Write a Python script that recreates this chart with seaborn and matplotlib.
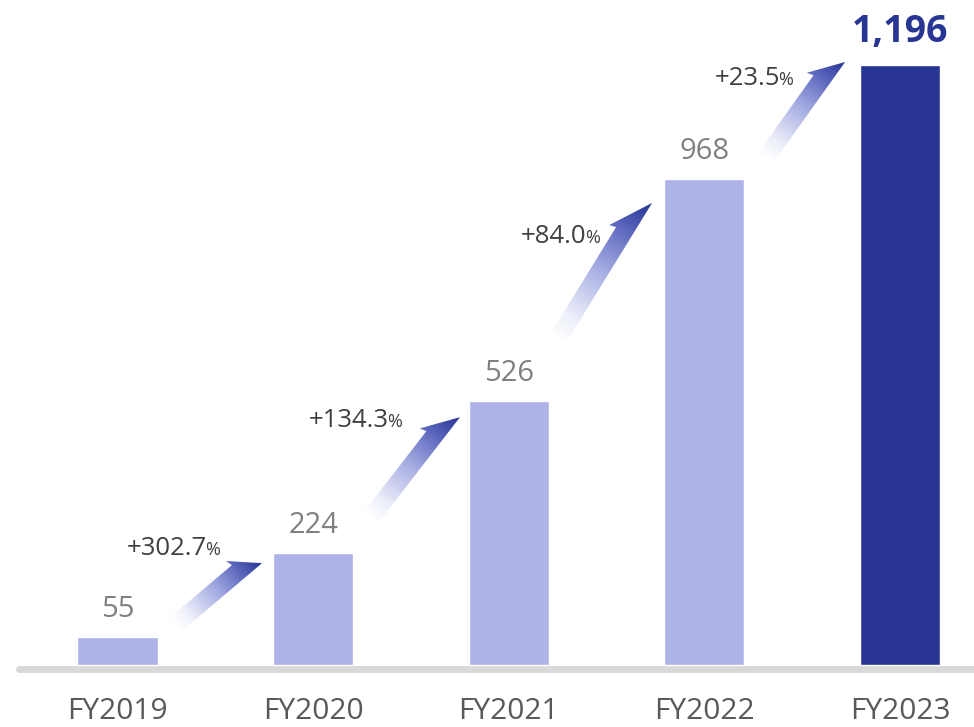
import numpy as np
import pandas as pd
import matplotlib
matplotlib.use("Agg")
import matplotlib.pyplot as plt
import seaborn as sns
from matplotlib import font_manager
from matplotlib.colors import LinearSegmentedColormap
from matplotlib.patches import Polygon

# ---------------- data ----------------
categories = ["FY2019", "FY2020", "FY2021", "FY2022", "FY2023"]
values = [55, 224, 526, 968, 1196]
growth_labels = ["+302.7", "+134.3", "+84.0", "+23.5"]

# ---------------- style ----------------
LIGHT = "#aeb4e8"
DARK = "#283593"
bar_colors = [LIGHT, LIGHT, LIGHT, LIGHT, DARK]

sns.set_theme(style="white")
names = {f.name for f in font_manager.fontManager.ttflist}
MAIN_FONT = ["Open Sans", "DejaVu Sans"]
if "Liberation Sans Narrow" in names:
    TICK_FONT, TICK_SIZE = ["Liberation Sans Narrow"], 24
else:
    TICK_FONT, TICK_SIZE = ["Open Sans"], 21.5
plt.rcParams["font.family"] = MAIN_FONT

W, H = 974, 727
fig = plt.figure(figsize=(W / 100, H / 100), dpi=100)
ax = fig.add_axes([0, 47 / H, 1, 680 / H])

df = pd.DataFrame({"cat": categories, "val": values})
sns.barplot(data=df, x="cat", y="val", hue="cat", palette=bar_colors,
            order=categories, hue_order=categories, width=0.41,
            saturation=1, legend=False, ax=ax, zorder=3)

# pixel scale: 1196 -> 600 px
ppu = 600 / 1196.0
xspan = 195.6
ax.set_xlim(-117.5 / xspan, (W - 117.5) / xspan)
ax.set_ylim(-15 / ppu, 665 / ppu)
ax.set_xlabel("")
ax.set_ylabel("")
ax.set_yticks([])
for s in ax.spines.values():
    s.set_visible(False)
ax.tick_params(axis="x", length=0, pad=12)
for lab in ax.get_xticklabels():
    lab.set_fontfamily(TICK_FONT)
    lab.set_fontsize(TICK_SIZE)
    lab.set_color("#595959")

# baseline
ax.axhline(-3.5 / ppu, xmin=19 / W, xmax=1, color="#d9d9d9", lw=7 * 0.72, zorder=2)

# value labels
for i, v in enumerate(values):
    if i == len(values) - 1:
        ax.text(i, v + 23 / ppu, f"{v:,}", ha="center", va="baseline",
                fontsize=27, fontweight="bold", color=DARK, zorder=5)
    else:
        ax.text(i, v + 20 / ppu, f"{v:,}", ha="center", va="baseline",
                fontsize=21, color="#808080", zorder=5)

# ---------------- gradient arrows ----------------
# arrow layout (x in category units, y in value units): tail / tip of right edge
arrow_tail = [(0.33, 68), (1.33, 282), (2.29, 640), (3.35, 1000)]
arrow_tip = [(0.739, 203), (1.751, 494), (2.733, 921), (3.72, 1202)]
label_offset_px = [(-42, 8), (-58, -10), (-52, -40), (-52, -23)]

cmap = LinearSegmentedColormap.from_list(
    "arr", [(0.0, "#ffffff"), (0.15, "#eef0fa"), (0.5, "#a5ace2"),
            (0.8, "#5864bb"), (1.0, DARK)])

to_px = ax.transData.transform
to_data = ax.transData.inverted().transform
renderer = fig.canvas.get_renderer()

for k in range(len(arrow_tail)):
    T = to_px(arrow_tail[k])
    P = to_px(arrow_tip[k])
    d = P - T
    L = np.hypot(*d)
    u = d / L
    n = np.array([-u[1], u[0]])
    w = 18.0
    hl = 0.25 * L
    ww = 25.0
    local = [(0, 0), (L, 0), (L - hl, ww), (L - hl + 2, w), (0, w)]
    pts = np.array([T + s * u + t * n for s, t in local])
    data_pts = to_data(pts)
    clip = Polygon(data_pts, closed=True, facecolor="none", edgecolor="none",
                   transform=ax.transData)
    ax.add_patch(clip)
    x0, y0 = pts.min(axis=0) - 2
    x1, y1 = pts.max(axis=0) + 2
    nx, ny = int(x1 - x0) + 1, int(y1 - y0) + 1
    gx, gy = np.meshgrid(np.linspace(x0, x1, nx), np.linspace(y0, y1, ny))
    sval = np.clip(((gx - T[0]) * u[0] + (gy - T[1]) * u[1]) / L, 0, 1)
    (dx0, dy0), (dx1, dy1) = to_data([(x0, y0), (x1, y1)])
    im = ax.imshow(sval, cmap=cmap, vmin=0, vmax=1, origin="lower",
                   extent=[dx0, dx1, dy0, dy1], aspect="auto",
                   interpolation="bilinear", zorder=4)
    im.set_clip_path(clip)

    # growth label
    ox, oy = label_offset_px[k]
    pct = ax.annotate("%", xy=arrow_tip[k], xytext=(ox, oy),
                      textcoords="offset pixels", ha="right", va="baseline",
                      fontsize=13, color="#404040", zorder=5)
    pw = pct.get_window_extent(renderer=renderer).width
    ax.annotate(growth_labels[k], xy=arrow_tip[k], xytext=(ox - pw + 1.5, oy),
                textcoords="offset pixels", ha="right", va="baseline",
                fontsize=18.5, color="#404040", zorder=5)

ax.set_xlim(-117.5 / xspan, (W - 117.5) / xspan)
ax.set_ylim(-15 / ppu, 665 / ppu)

fig.savefig("out.png", dpi=100)
